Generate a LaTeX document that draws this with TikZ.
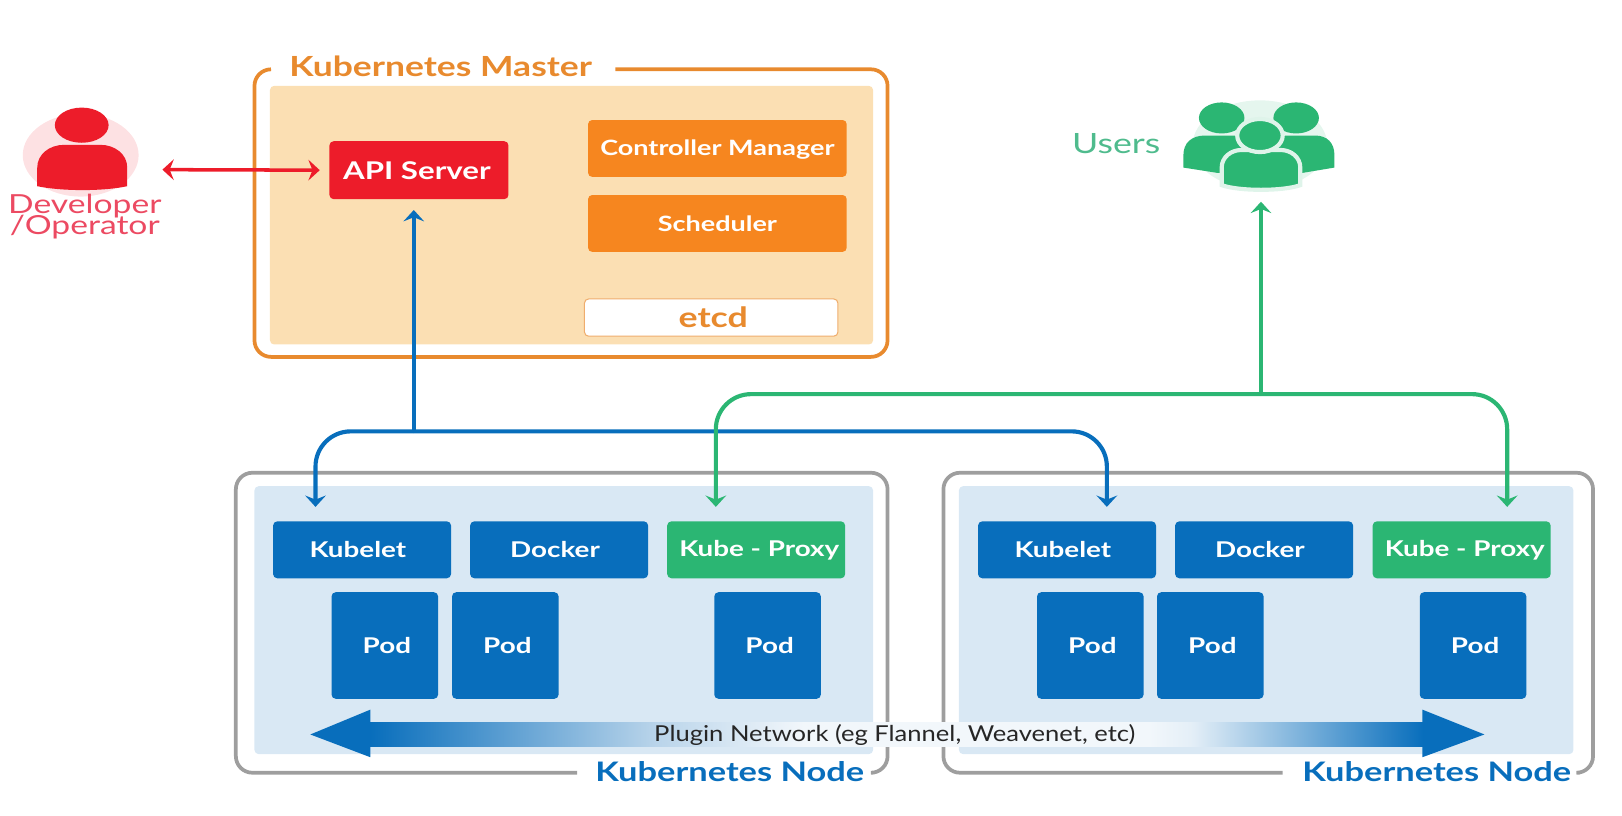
\documentclass[tikz,border=0pt]{standalone}
\usepackage{fontspec}
\setmainfont{Lato}[FakeStretch=1.28]
\newfontface\pluginfont{Lato}[FakeStretch=1.166]
\usetikzlibrary{arrows.meta,calc}
\definecolor{kblue}{HTML}{086EBC}
\definecolor{kpanel}{HTML}{D9E8F4}
\definecolor{knetmid}{HTML}{B9D4EA}
\definecolor{knetpale}{HTML}{F2F7FB}
\definecolor{kgreen}{HTML}{2BB673}
\definecolor{kgreenT}{HTML}{4FBB8D}
\definecolor{kred}{HTML}{ED1C2A}
\definecolor{kredT}{HTML}{EC4A62}
\definecolor{korange}{HTML}{F6861F}
\definecolor{kframe}{HTML}{E88A2E}
\definecolor{kpeach}{HTML}{FBDFB3}
\definecolor{kgray}{HTML}{9E9E9E}
\pgfdeclarehorizontalshading{netshade}{100bp}{
 color(0bp)=(kblue); color(27.55bp)=(kblue); color(39.7bp)=(knetmid);
 color(46bp)=(knetpale); color(60.7bp)=(knetpale); color(62.5bp)=(kpanel!70!white); color(72.4bp)=(kblue); color(100bp)=(kblue)}
\tikzset{
 x=0.5pt,y=-0.5pt,
 boxbase/.style={rounded corners=2pt,inner sep=0pt,align=center,font=\fontsize{10.5}{12}\selectfont\bfseries,text=white},
 wide/.style={boxbase,fill=kblue,minimum width=86pt,minimum height=27.5pt},
 pod/.style={boxbase,fill=kblue,minimum width=51.5pt,minimum height=51.5pt},
 proxy/.style={wide,fill=kgreen},
 orangebox/.style={boxbase,fill=korange,minimum width=125pt,minimum height=27.5pt,font=\fontsize{10.2}{12}\selectfont\bfseries},
 apibox/.style={boxbase,fill=kred,minimum width=86.5pt,minimum height=28pt,font=\fontsize{11.8}{13}\selectfont\bfseries},
 etcdbox/.style={boxbase,fill=white,draw=kframe!70!white,line width=0.5pt,text=kframe,minimum width=122.5pt,minimum height=18pt,font=\fontsize{13.5}{14}\selectfont\bfseries},
 panel/.style={fill=kpanel,rounded corners=2pt},
 frameline/.style={line width=1.8pt,rounded corners=8pt},
 titletext/.style={inner sep=0pt,font=\fontsize{13}{14}\selectfont\bfseries},
 conn/.style={line width=2pt,-{Stealth[length=5.5pt,width=10pt,inset=2pt]}},
 bus/.style={conn,rounded corners=17pt},
}
\begin{document}
\begin{tikzpicture}
\useasboundingbox (0,0) rectangle (1568,788.8);
% master
\fill[kpeach,rounded corners=2pt] (261,83) rectangle (844,333);
\draw[frameline,kframe] (262,67) -- (246,67) -- (246,345) -- (858,345) -- (858,67) -- (595,67);
\node[titletext,text=kframe,font=\fontsize{13.4}{14}\selectfont\bfseries] (mastertitle) at (426,64) {Kubernetes Master};
\node[apibox] (api) at (405,164.5) {API Server\hspace*{2pt}};
\node[orangebox,text depth=1pt] (cm) at (693.5,143.5) {Controller Manager};
\node[orangebox] (sched) at (693.5,216) {Scheduler};
\node[etcdbox] (etcd) at (687.5,307) {\hspace*{2pt}etcd};
% node frames
\fill[panel] (246,470) rectangle (844,729);
\fill[panel] (927,470) rectangle (1521,729);
\draw[frameline,kgray] (558,747) -- (228,747) -- (228,457) -- (858,457) -- (858,747) -- (844,747);
\draw[frameline,kgray] (1240,747) -- (912,747) -- (912,457) -- (1540,457) -- (1540,747) -- (1527,747);
\node[titletext,text=kblue] (nodetitleA) at (705.5,746) {Kubernetes Node};
\node[titletext,text=kblue] (nodetitleB) at (1389,746) {Kubernetes Node};
% node 1
\node[wide] (kubeletA) at (350,531.5) {Kubelet\hspace*{4pt}};
\node[wide] (dockerA) at (540.5,531.5) {Docker\hspace*{4pt}};
\node[proxy] (proxyA) at (731,531.5) {\hspace*{3pt}Kube - Proxy};
\node[pod] (podA) at (372,624) {\hspace*{2pt}Pod};
\node[pod] (podB) at (488.5,624) {\hspace*{2pt}Pod};
\node[pod] (podC) at (742,624) {\hspace*{2pt}Pod};
% node 2
\node[wide] (kubeletB) at (1031.5,531.5) {Kubelet\hspace*{4pt}};
\node[wide] (dockerB) at (1222,531.5) {Docker\hspace*{4pt}};
\node[proxy] (proxyB) at (1413,531.5) {\hspace*{3pt}Kube - Proxy};
\node[pod] (podD) at (1054,624) {\hspace*{2pt}Pod};
\node[pod] (podE) at (1170,624) {\hspace*{2pt}Pod};
\node[pod] (podF) at (1424,624) {\hspace*{2pt}Pod};
% plugin network
\shade[shading=netshade] (300,710) -- (358,686) -- (358,698) -- (1375,698) -- (1375,686) -- (1435,710) -- (1375,732) -- (1375,722) -- (358,722) -- (358,732) -- cycle;
\node[inner sep=0pt,font=\fontsize{10.6}{12}\pluginfont,text=black!85] (plugin) at (865,710.5) {Plugin Network (eg Flannel, Weavenet, etc)};
% developer icon
\fill[kred!13!white] (78,150) ellipse[x radius=56,y radius=40];
\fill[kred] (79,121) ellipse[x radius=26,y radius=17];
\fill[kred] (36,180) -- (36,162) .. controls (36,149) and (48,140) .. (62,140) -- (97,140) .. controls (111,140) and (123,149) .. (123,162) -- (123,180) .. controls (100,185) and (60,185) .. (36,180) -- cycle;
\node[inner sep=0pt,align=center,text=kredT,font=\fontsize{12.7}{10.5}\selectfont] (devlabel) at (82,209) {Developer\\[-2.3pt]/Operator};
% users icon
\fill[kgreen!12!white] (1218,140) ellipse[x radius=65,y radius=43];
\fill[kgreen] (1181,114) ellipse[x radius=22,y radius=15];
\fill[kgreen] (1253,114) ellipse[x radius=22,y radius=15];
\fill[kgreen] (1144,162) -- (1144,150) .. controls (1144,138) and (1152,131) .. (1165,131) -- (1271,131) .. controls (1283,131) and (1290,138) .. (1290,150) -- (1290,162) -- (1260,167) -- (1176,167) -- cycle;
\fill[kgreen,draw=kgreen!15!white,line width=2pt] (1181,179) -- (1181,162) .. controls (1181,152) and (1190,145) .. (1200,145) -- (1238,145) .. controls (1248,145) and (1257,152) .. (1257,162) -- (1257,179) .. controls (1240,185) and (1198,185) .. (1181,179) -- cycle;
\fill[kgreen,draw=kgreen!15!white,line width=2pt] (1218,131) ellipse[x radius=22,y radius=16];
\node[inner sep=0pt,text=kgreenT,font=\fontsize{13.5}{15}\selectfont] (userslabel) at (1079,139) {Users};
% connector anchors
\coordinate (devport) at (157,164);
\coordinate (usersport) at (1219,195);
\coordinate (bj) at (400,417);
\coordinate (gj) at (1219,381);
\coordinate (kubeletAin) at (305,490);
\coordinate (kubeletBin) at (1070,490);
\coordinate (proxyAin) at (692,490);
\coordinate (proxyBin) at (1457,490);
\coordinate (apiin) at (400,203);
% connectors
\draw[conn,kred,line width=1.7pt,{Stealth[length=5.5pt,width=10pt,inset=2pt]}-{Stealth[length=5.5pt,width=10pt,inset=2pt]}] (devport) -- ($(api.west)+(-9,0)$);
\draw[conn,kblue] (bj) -- (apiin);
\draw[bus,kblue] (bj) -| (kubeletAin);
\draw[bus,kblue] (bj) -| (kubeletBin);
\draw[bus,kgreen] (gj) -| (proxyAin);
\draw[bus,kgreen] (gj) -| (proxyBin);
\draw[conn,kgreen] (gj) -- (usersport);
\end{tikzpicture}
\end{document}
